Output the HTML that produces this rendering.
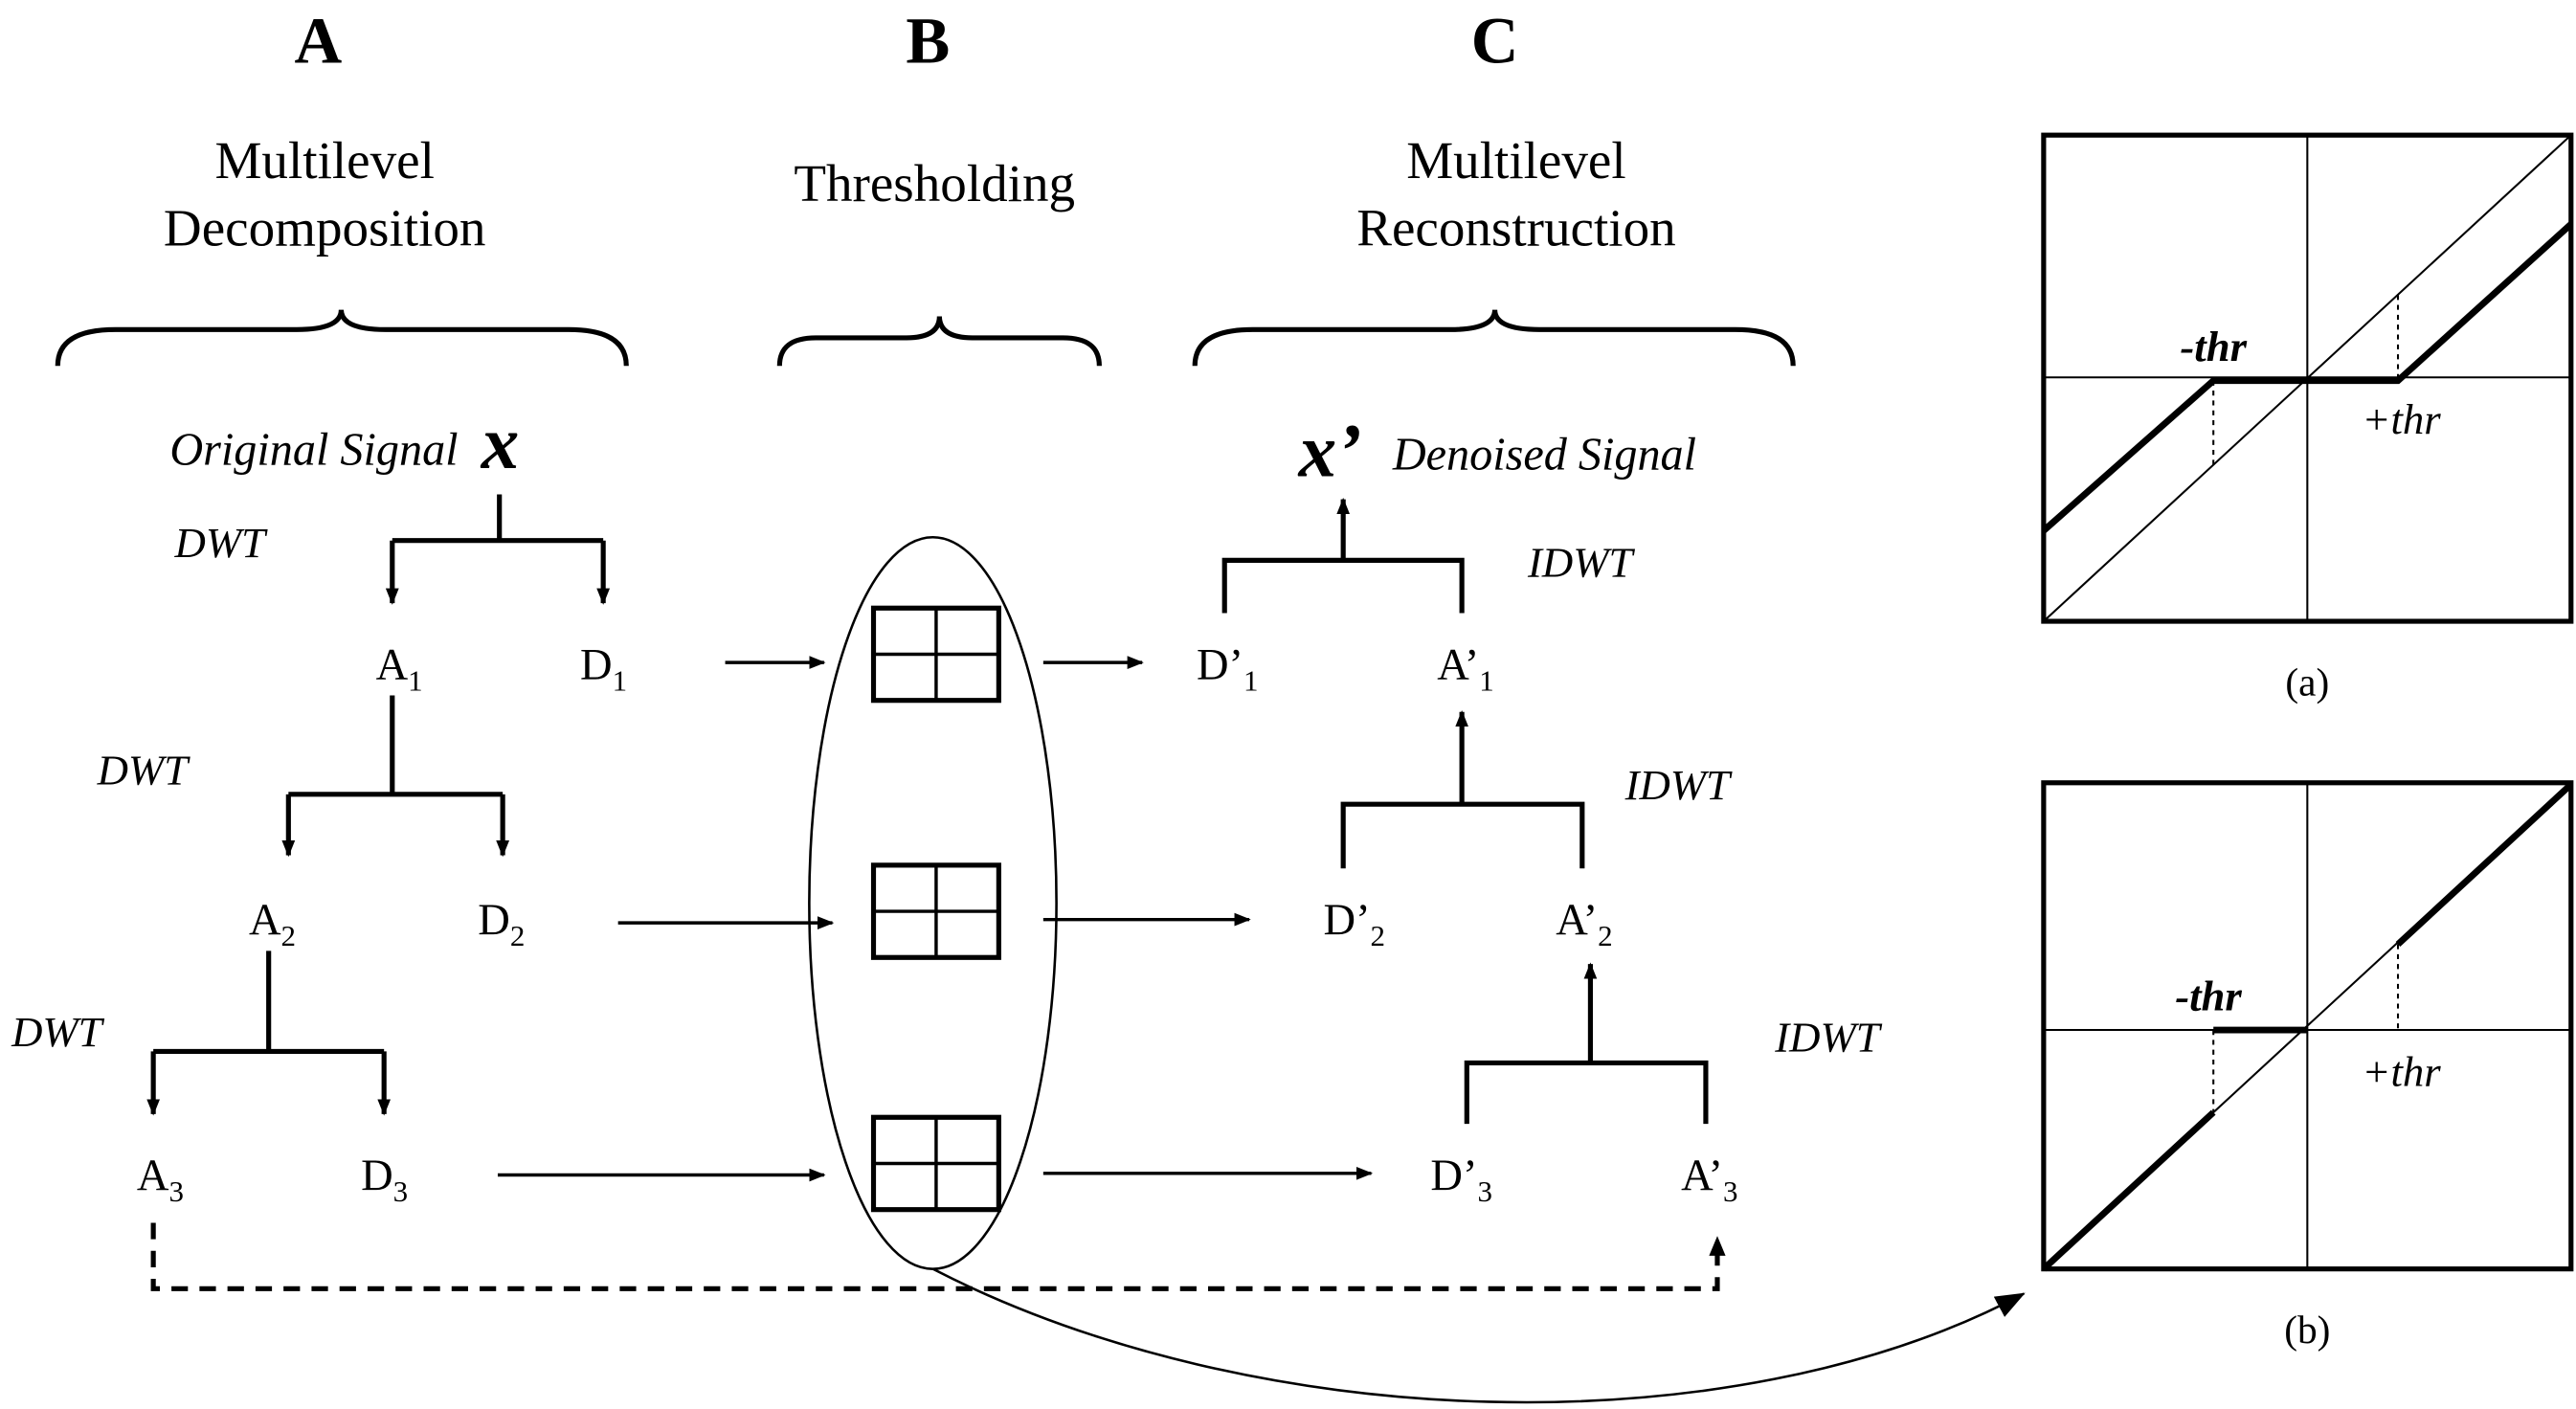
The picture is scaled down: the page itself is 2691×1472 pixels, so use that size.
<!DOCTYPE html>
<html><head><meta charset="utf-8"><style>
html,body{margin:0;padding:0;background:#fff;}
svg{display:block;}
text{font-family:"Liberation Serif",serif;fill:#000;}
.it{font-style:italic;}
</style></head><body>
<svg width="2691" height="1472" viewBox="0 0 1563 855" xmlns="http://www.w3.org/2000/svg">
<defs>
<marker id="ar" markerWidth="10" markerHeight="10" refX="9" refY="5" orient="auto" markerUnits="userSpaceOnUse"><path d="M0,1 L10,5 L0,9 z" fill="#000"/></marker>
<marker id="ar2" markerWidth="18" markerHeight="14" refX="17" refY="7" orient="auto" markerUnits="userSpaceOnUse"><path d="M0,0 L18,7 L0,14 z" fill="#000"/></marker>
</defs>
<g text-anchor="middle">
<text x="193" y="38" font-size="40" font-weight="bold">A</text>
<text x="563" y="38" font-size="40" font-weight="bold">B</text>
<text x="907" y="38" font-size="40" font-weight="bold">C</text>
<text x="197" y="108" font-size="32">Multilevel</text>
<text x="197" y="149" font-size="32">Decomposition</text>
<text x="567" y="122" font-size="32">Thresholding</text>
<text x="920" y="108" font-size="32">Multilevel</text>
<text x="920" y="149" font-size="32">Reconstruction</text>
</g>
<g fill="none" stroke="#000" stroke-width="3">
<path d="M35,222 Q35,200 70,200 L180,200 Q207,200 207,188 Q207,200 234,200 L345,200 Q380,200 380,222"/>
<path d="M473,222 Q473,205 495,205 L550,205 Q570,205 570,192 Q570,205 590,205 L645,205 Q667,205 667,222"/>
<path d="M725,222 Q725,200 760,200 L880,200 Q907,200 907,188 Q907,200 934,200 L1053,200 Q1088,200 1088,222"/>
</g>
<text x="103" y="282" font-size="28" class="it">Original Signal</text>
<text x="292" y="284" font-size="46" class="it" font-weight="bold">x</text>
<text x="106" y="338" font-size="26" class="it">DWT</text>
<text x="59" y="476" font-size="26" class="it">DWT</text>
<text x="7" y="635" font-size="26" class="it">DWT</text>
<g stroke="#000" stroke-width="3" fill="none">
<path d="M303,300 V328 M238,328 H366"/>
<path d="M238,328 V366" marker-end="url(#ar)"/><path d="M366,328 V366" marker-end="url(#ar)"/>
<path d="M238,422 V482 M175,482 H305"/>
<path d="M175,482 V519" marker-end="url(#ar)"/><path d="M305,482 V519" marker-end="url(#ar)"/>
<path d="M163,577 V638 M93,638 H233"/>
<path d="M93,638 V676" marker-end="url(#ar)"/><path d="M233,638 V676" marker-end="url(#ar)"/>
</g>
<g font-size="27">
<text x="228" y="412">A<tspan font-size="18" dy="7">1</tspan></text>
<text x="352" y="412">D<tspan font-size="18" dy="7">1</tspan></text>
<text x="151" y="567">A<tspan font-size="18" dy="7">2</tspan></text>
<text x="290" y="567">D<tspan font-size="18" dy="7">2</tspan></text>
<text x="83" y="722">A<tspan font-size="18" dy="7">3</tspan></text>
<text x="219" y="722">D<tspan font-size="18" dy="7">3</tspan></text>
<text x="726" y="412">D’<tspan font-size="18" dy="7">1</tspan></text>
<text x="872" y="412">A’<tspan font-size="18" dy="7">1</tspan></text>
<text x="803" y="567">D’<tspan font-size="18" dy="7">2</tspan></text>
<text x="944" y="567">A’<tspan font-size="18" dy="7">2</tspan></text>
<text x="868" y="722">D’<tspan font-size="18" dy="7">3</tspan></text>
<text x="1020" y="722">A’<tspan font-size="18" dy="7">3</tspan></text>
</g>
<path d="M93,742 V782 H1042 V754" fill="none" stroke="#000" stroke-width="3" stroke-dasharray="10,7"/>
<path d="M1037,762 L1042,750 L1047,762 z"/>
<g stroke="#000" stroke-width="2" fill="none">
<path d="M440,402 H500" marker-end="url(#ar)"/>
<path d="M375,560 H505" marker-end="url(#ar)"/>
<path d="M302,713 H500" marker-end="url(#ar)"/>
<path d="M633,402 H693" marker-end="url(#ar)"/>
<path d="M633,558 H758" marker-end="url(#ar)"/>
<path d="M633,712 H832" marker-end="url(#ar)"/>
<ellipse cx="566" cy="548" rx="75" ry="222" stroke-width="1.5"/>
<path d="M566,770 C760,870 1050,880 1228,785" stroke-width="1.5" marker-end="url(#ar2)"/>
</g>
<g stroke="#000" fill="none">
<g stroke-width="3"><rect x="530" y="369" width="76" height="56"/><rect x="530" y="525" width="76" height="56"/><rect x="530" y="678" width="76" height="56"/></g>
<g stroke-width="2"><path d="M530,397 H606 M568,369 V425 M530,553 H606 M568,525 V581 M530,706 H606 M568,678 V734"/></g>
</g>
<text x="788" y="289" font-size="46" class="it" font-weight="bold">x’</text>
<text x="845" y="285" font-size="28" class="it">Denoised Signal</text>
<text x="927" y="350" font-size="26" class="it">IDWT</text>
<text x="986" y="485" font-size="26" class="it">IDWT</text>
<text x="1077" y="638" font-size="26" class="it">IDWT</text>
<g stroke="#000" stroke-width="3" fill="none">
<path d="M743,372 V340 H887 V372"/>
<path d="M815,340 V303" marker-end="url(#ar)"/>
<path d="M815,527 V488 H960 V527"/>
<path d="M887,488 V432" marker-end="url(#ar)"/>
<path d="M890,682 V645 H1035 V682"/>
<path d="M965,645 V585" marker-end="url(#ar)"/>
</g>
<g fill="none" stroke="#000">
<rect x="1240" y="82" width="320" height="295" stroke-width="3"/>
<path d="M1400,82 V377 M1240,229 H1560 M1240,377 L1560,82" stroke-width="1.2"/>
<path d="M1240,322 L1343,231 H1455 L1560,136" stroke-width="4"/>
<path d="M1343,231 V282 M1455,179 V229" stroke-width="1.2" stroke-dasharray="3,3"/>
<rect x="1240" y="475" width="320" height="295" stroke-width="3"/>
<path d="M1400,475 V770 M1240,625 H1560 M1240,770 L1560,475" stroke-width="1.2"/>
<path d="M1240,770 L1343,675 M1343,625 H1400 M1455,573 L1560,476" stroke-width="4"/>
<path d="M1343,625 V675 M1455,573 V625" stroke-width="1.2" stroke-dasharray="3,3"/>
</g>
<g font-size="26" text-anchor="middle">
<text x="1343" y="219" class="it" font-weight="bold">-thr</text>
<text x="1457" y="263" class="it">+thr</text>
<text x="1400" y="422" font-size="24">(a)</text>
<text x="1340" y="613" class="it" font-weight="bold">-thr</text>
<text x="1457" y="659" class="it">+thr</text>
<text x="1400" y="815" font-size="24">(b)</text>
</g>
</svg>
</body></html>
